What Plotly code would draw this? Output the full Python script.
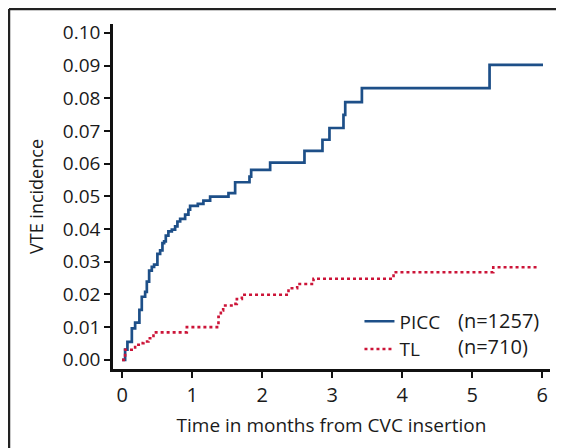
import plotly.graph_objects as go

# PICC cumulative incidence (step times in months, values)
picc_t = [0.0, 0.019, 0.043, 0.076, 0.139, 0.186, 0.247, 0.281, 0.329, 0.353, 0.386,
          0.424, 0.457, 0.504, 0.543, 0.576, 0.600, 0.624, 0.661, 0.710, 0.757,
          0.790, 0.829, 0.900, 0.947, 0.971, 1.081, 1.161, 1.257, 1.519, 1.614,
          1.819, 1.843, 2.114, 2.604, 2.861, 2.961, 3.161, 3.186, 3.424, 5.247, 6.01]
picc_v = [0.0, 0.0, 0.0031, 0.0055, 0.0096, 0.0114, 0.0153, 0.0193, 0.0208, 0.0239, 0.0273,
          0.0284, 0.0291, 0.0324, 0.0335, 0.0357, 0.0362, 0.0380, 0.0393, 0.0398, 0.0408,
          0.0423, 0.0431, 0.0444, 0.0459, 0.0471, 0.0477, 0.0487, 0.0499, 0.0510, 0.0543,
          0.0560, 0.0581, 0.0603, 0.0639, 0.0673, 0.0709, 0.0749, 0.0788, 0.0831, 0.0902, 0.0902]

# TL cumulative incidence
tl_t = [0.0, 0.043, 0.186, 0.257, 0.304, 0.376, 0.448, 0.924, 1.376, 1.410, 1.443,
        1.590, 1.638, 1.710, 2.376, 2.500, 2.733, 3.876, 5.300, 5.95]
tl_v = [0.0, 0.0031, 0.0046, 0.0051, 0.0056, 0.0066, 0.0084, 0.0100, 0.0132, 0.0151, 0.0166,
        0.0171, 0.0186, 0.0199, 0.0219, 0.0232, 0.0248, 0.0268, 0.0283, 0.0283]

x_ticks = [0, 1, 2, 3, 4, 5, 6]
y_ticks = [0.00, 0.01, 0.02, 0.03, 0.04, 0.05, 0.06, 0.07, 0.08, 0.09, 0.10]
y_labels = [f"{v:.2f}" for v in y_ticks]

series_names = ["PICC", "TL"]
series_n = ["(n=1257)", "(n=710)"]

FONT = "Open Sans"
TXT = "#1a1a1a"

fig = go.Figure()
fig.add_trace(go.Scatter(x=picc_t, y=picc_v, mode="lines", name=series_names[0],
                         line=dict(shape="hv", color="#1d4f88", width=2.7)))
fig.add_trace(go.Scatter(x=tl_t, y=tl_v, mode="lines", name=series_names[1],
                         line=dict(shape="hv", color="#cc1438", width=2.6, dash="dot")))

axis_common = dict(showline=True, linecolor="#111111", linewidth=2.5, ticks="outside",
                   ticklen=6, tickwidth=2, tickcolor="#111111", showgrid=False,
                   zeroline=False)

fig.update_xaxes(range=[-0.13, 6.11], tickvals=x_ticks, ticktext=[str(v) for v in x_ticks],
                 tickfont=dict(family=FONT, size=20, color=TXT),
                 title=dict(text="Time in months from CVC insertion",
                            font=dict(family=FONT, size=19, color=TXT), standoff=12),
                 **axis_common)
fig.update_yaxes(range=[-0.0028, 0.1027], tickvals=y_ticks, ticktext=y_labels,
                 tickfont=dict(family=FONT, size=19, color=TXT),
                 title=dict(text="VTE incidence",
                            font=dict(family=FONT, size=18, color=TXT), standoff=15),
                 **axis_common)

# outer frame (top and left edges, cropped)
fig.add_shape(type="line", xref="paper", yref="paper", x0=-0.238, x1=1.2, y0=1.0435, y1=1.0435,
              line=dict(color="#222222", width=2.5))
fig.add_shape(type="line", xref="paper", yref="paper", x0=-0.238, x1=-0.238, y0=1.0435, y1=-0.4,
              line=dict(color="#222222", width=2.5))

# n annotations next to legend
leg_y = [0.140, 0.065]
for n, yy in zip(series_n, leg_y):
    fig.add_annotation(text=n, xref="paper", yref="paper", x=0.786, y=yy,
                       xanchor="left", yanchor="middle", showarrow=False,
                       font=dict(family=FONT, size=20, color=TXT))

fig.update_layout(
    width=556, height=440,
    margin=dict(l=105, r=14, t=16, b=79),
    plot_bgcolor="white", paper_bgcolor="white",
    showlegend=True,
    legend=dict(x=0.564, y=0.193, xanchor="left", yanchor="top",
                font=dict(family=FONT, size=19, color=TXT),
                bgcolor="rgba(0,0,0,0)", itemwidth=30, tracegroupgap=0),
    font=dict(family=FONT, color=TXT),
)

fig.write_html("out.html")
